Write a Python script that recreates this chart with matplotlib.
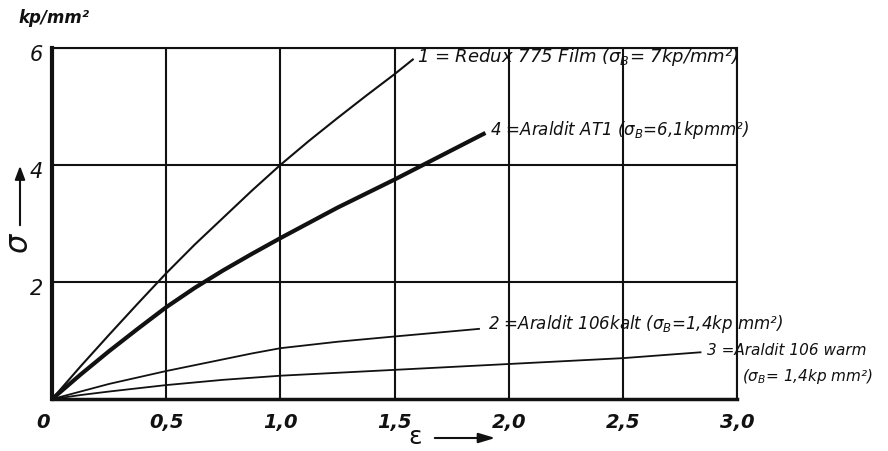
import matplotlib
matplotlib.use("Agg")
import matplotlib.pyplot as plt

# Data (strain ε in %, stress σ in kp/mm²)
eps1 = [0, 0.125, 0.25, 0.375, 0.5, 0.625, 0.75, 0.875, 1.0, 1.125, 1.25, 1.375, 1.5, 1.58]
sig1 = [0, 0.56, 1.1, 1.63, 2.15, 2.64, 3.1, 3.56, 4.0, 4.41, 4.8, 5.18, 5.55, 5.8]
eps4 = [0, 0.125, 0.25, 0.375, 0.5, 0.625, 0.75, 0.875, 1.0, 1.125, 1.25, 1.375, 1.5, 1.625, 1.75, 1.89]
sig4 = [0, 0.42, 0.82, 1.2, 1.57, 1.9, 2.2, 2.48, 2.75, 3.01, 3.27, 3.51, 3.75, 4.0, 4.25, 4.53]
eps2 = [0, 0.125, 0.25, 0.375, 0.5, 0.625, 0.75, 0.875, 1.0, 1.25, 1.5, 1.7, 1.87]
sig2 = [0, 0.13, 0.26, 0.37, 0.48, 0.58, 0.68, 0.78, 0.87, 0.98, 1.07, 1.14, 1.2]
eps3 = [0, 0.125, 0.25, 0.5, 0.75, 1.0, 1.5, 2.0, 2.5, 2.84]
sig3 = [0, 0.07, 0.13, 0.24, 0.33, 0.4, 0.5, 0.6, 0.7, 0.8]

xticks = [0.5, 1.0, 1.5, 2.0, 2.5, 3.0]
xticklabels = ["0,5", "1,0", "1,5", "2,0", "2,5", "3,0"]
yticks = [2, 4, 6]
yticklabels = ["2", "4", "6"]

lab1 = "1 = Redux 775 Film ($\\sigma_B$= 7kp/mm²)"
lab4 = "4 =Araldit AT1 ($\\sigma_B$=6,1kpmm²)"
lab2 = "2 =Araldit 106kalt ($\\sigma_B$=1,4kp mm²)"
lab3a = "3 =Araldit 106 warm"
lab3b = "($\\sigma_B$= 1,4kp mm²)"

plt.rcParams['mathtext.fontset'] = 'dejavusans'
plt.rcParams['mathtext.default'] = 'it'

fig = plt.figure(figsize=(8.88, 4.51), dpi=100)
ax = fig.add_axes([0.0586, 0.115, 0.7714, 0.779])
ax.set_xlim(0, 3.0)
ax.set_ylim(0, 6)

for x in xticks:
    ax.axvline(x, color="#111111", lw=1.5, zorder=1)
for y in yticks:
    ax.axhline(y, color="#111111", lw=1.5, zorder=1)

ax.plot(eps1, sig1, color="#111111", lw=1.5, zorder=3)
ax.plot(eps4, sig4, color="#111111", lw=3.0, zorder=3)
ax.plot(eps2, sig2, color="#111111", lw=1.3, zorder=3)
ax.plot(eps3, sig3, color="#111111", lw=1.3, zorder=3)

ax.spines["left"].set_linewidth(3.0)
ax.spines["bottom"].set_linewidth(2.5)
ax.spines["top"].set_linewidth(1.5)
ax.spines["right"].set_linewidth(1.5)
for s in ax.spines.values():
    s.set_color("#111111")

ax.set_xticks([])
ax.set_yticks([])

tkw = dict(fontsize=14, fontstyle="italic", fontweight="bold", color="#111111")
for x, t in zip(xticks, xticklabels):
    ax.text(x, -0.4, t, ha="center", va="center", **tkw)
ax.text(-0.04, -0.4, "0", ha="center", va="center", **tkw)
for y, t in zip(yticks, yticklabels):
    ax.text(-0.07, y - 0.12, t, ha="center", va="center", fontsize=15,
            fontstyle="italic", color="#111111")

lkw = dict(fontstyle="italic", color="#111111", va="center", ha="left")
ax.text(1.6, 5.85, lab1, fontsize=13, **lkw)
ax.text(1.92, 4.6, lab4, fontsize=12, **lkw)
ax.text(1.91, 1.28, lab2, fontsize=12, **lkw)
ax.text(2.87, 0.83, lab3a, fontsize=11, **lkw)
ax.text(3.02, 0.38, lab3b, fontsize=11, **lkw)

# axis labels
fig.text(18 / 888, 1 - 18 / 451, "kp/mm²", fontsize=12, fontstyle="italic",
         fontweight="bold", color="#111111", ha="left", va="center")
fig.text(20 / 888, 1 - 243 / 451, "$\\sigma$", fontsize=22, color="#111111",
         ha="center", va="center", rotation=90)
fig.patches.append(matplotlib.patches.FancyArrowPatch(
    (20 / 888, 1 - 228 / 451), (20 / 888, 1 - 163 / 451), transform=fig.transFigure,
    arrowstyle="-|>,head_length=8,head_width=3", color="#111111", lw=1.5))
fig.text(415 / 888, 1 - 437 / 451, "ε", fontsize=18, color="#111111",
         ha="center", va="center")
fig.patches.append(matplotlib.patches.FancyArrowPatch(
    (432 / 888, 1 - 438 / 451), (498 / 888, 1 - 438 / 451), transform=fig.transFigure,
    arrowstyle="-|>,head_length=10,head_width=3", color="#111111", lw=1.5))

fig.savefig("out.png", dpi=100)
